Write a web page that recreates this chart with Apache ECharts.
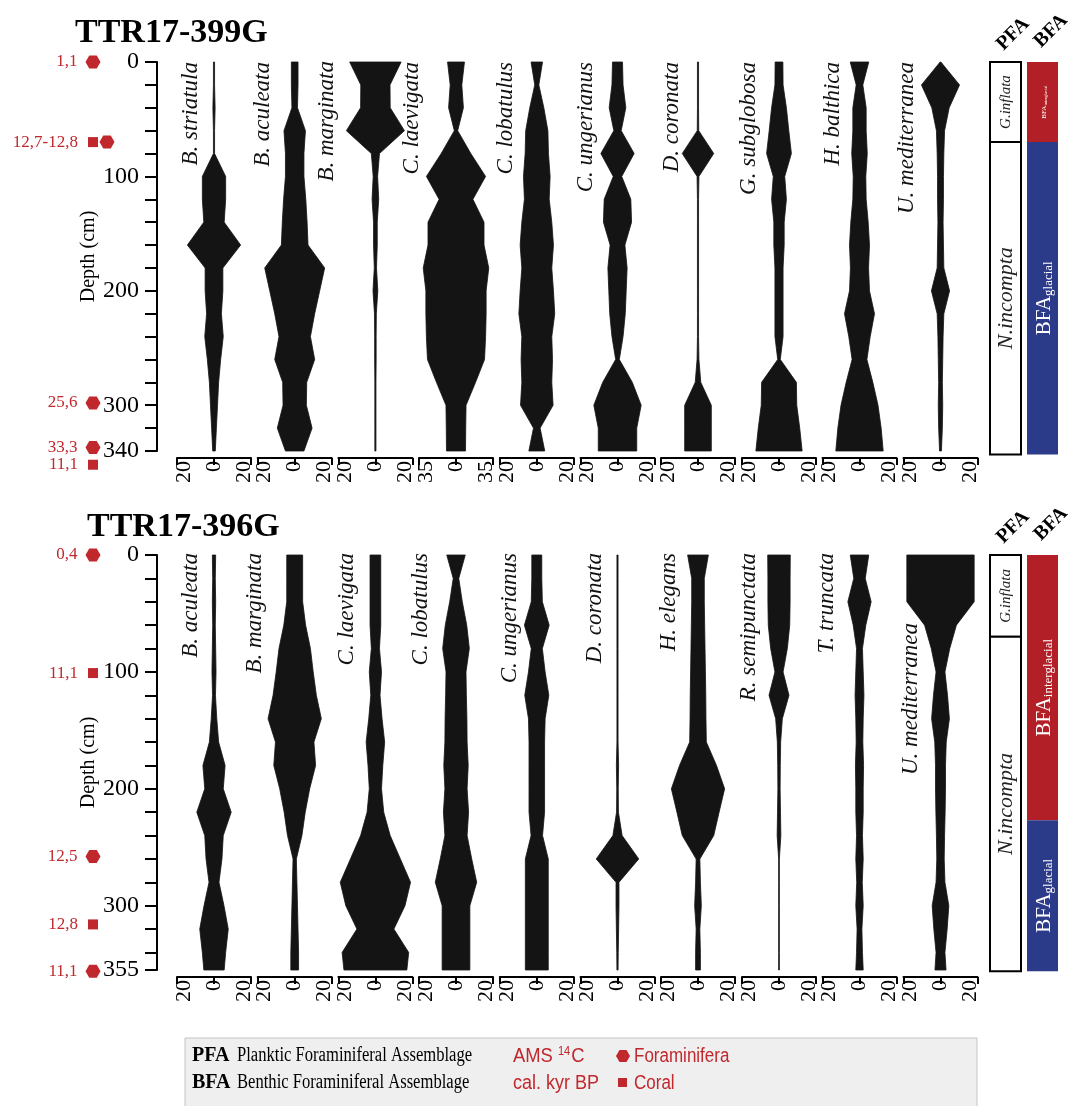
<!DOCTYPE html>
<html>
<head>
<meta charset="utf-8">
<script src="https://cdn.jsdelivr.net/npm/echarts@6/dist/echarts.min.js"></script>
<style>
html,body{margin:0;padding:0;background:#fff;}
#chart{width:1072px;height:1106px;}
</style>
</head>
<body>
<div id="chart"></div>
<script>
// ---------- data: TTR17-399G ----------
const depths399 = [0,20,40,60,80,100,120,140,160,180,200,220,240,260,280,300,320,340];
const taxa399 = ['B. striatula','B. aculeata','B. marginata','C. laevigata','C. lobatulus',
                 'C. ungerianus','D. coronata','G. subglobosa','H. balthica','U. mediterranea'];
const range399 = [20,20,20,35,20,20,20,20,20,20];

const bStriatula399  = [0.3,0.3,0.6,0.3,0.3,6.3,6.3,5.5,14.4,4.8,4.8,4,5,3.6,2.5,1.9,1.3,0.7];
const bAculeata399   = [1.8,1.8,1.5,5.8,5,5,6,6.7,7.2,16.2,13.5,10.8,8.5,10.8,6.5,6.3,9.4,5];
const bMarginata399  = [13.9,7.9,8,15.7,2.2,1.2,1.8,1,1,0.6,1.3,0.5,0.4,0.4,0.3,0.3,0.3,0.3];
const cLaevigata399  = [8,5.5,7,1.6,14,28,16,26.5,26.5,31,28.5,28.5,28,27,18.5,9.5,9.2,9];
const cLobatulus399  = [3.1,1.1,3.8,6,6.3,7.2,6.7,8.1,9,8.1,9,9.7,8.1,8.5,8.1,8.8,1.8,4.3];
const cUngerianus399 = [2.7,3,4.5,2,9,2.3,7.2,7.6,4,5.2,4.7,4.2,3,1,8,12.8,10.4,10.4];
const dCoronata399   = [0.3,0.3,0.3,0.4,8.5,0.5,0.3,0.3,0.3,0.3,0.3,0.3,0.3,0.5,1.5,7.2,7.2,7.2];
const gSubglobosa399 = [2.1,2.2,4,5.3,6.7,3.1,4,2.8,2.8,2.2,2.2,2.2,2.2,0.7,9.4,9.6,11.2,12.5];
const hBalthica399   = [5,1.8,3.6,3.6,4.2,3.4,3.6,4.7,5.4,4.9,5.4,8.1,5.8,4,7.2,10,11.7,12.8];
const uMediterr399   = [0.2,10.3,4.7,2.2,1.8,1.6,1.6,1.4,1.6,1.8,4.9,1.8,1.4,1.2,1,1.2,1,0.5];

const depthTicks399  = depths399;
const depthLabels399 = [0,100,200,300,340];

const dateDepth399 = [0,70,70,298,337,352];
const dateLabel399 = ['1,1','12,7-12,8','','25,6','33,3','11,1'];
const dateKind399  = ['F','C','F','F','F','C'];

const pfaFrom399 = [0,70],  pfaTo399 = [70,343],  pfaName399 = ['G.inflata','N.incompta'];
const bfaFrom399 = [0,70],  bfaTo399 = [70,343],  bfaName399 = ['interglacial','glacial'];

// ---------- data: TTR17-396G ----------
const depths396 = [0,20,40,60,80,100,120,140,160,180,200,220,240,260,280,300,320,340,355];
const taxa396 = ['B. aculeata','B. marginata','C. laevigata','C. lobatulus','C. ungerianus',
                 'D. coronata','H. elegans','R. semipunctata','T. truncata','U. mediterranea'];
const range396 = [20,20,20,20,20,20,20,20,20,20];

const bAculeata396   = [0.9,0.7,0.9,0.7,0.9,1.1,0.8,1.5,2.5,6,5,9.3,5,4.3,2.7,5.4,7.7,6.3,5.5];
const bMarginata396  = [4.3,4.3,4.3,5.9,8.5,10,11.7,14.4,10.4,11.3,8.1,5.7,3.9,0.9,1.2,1.5,1.8,2.1,2.1];
const cLaevigata396  = [2.9,2.9,2.9,2.9,2.2,3.3,2.5,3.6,5,4,3.3,4.5,8,13.5,19,16,10,18,17];
const cLobatulus396  = [5,1.5,3.4,5.8,7.2,5.4,5.6,5.9,6,6.6,6,6.8,6,8.5,11.2,7.5,7.5,7.5,7.5];
const cUngerianus396 = [2.7,2.7,3,6.7,3,4.5,6.5,4.5,4.2,4.2,4.2,4.2,3.1,6.2,6.2,6.2,6.2,6.2,6.2];
const dCoronata396   = [0.3,0.3,0.3,0.3,0.3,0.3,0.3,0.3,0.3,0.6,0.4,0.5,2.5,11.5,0.8,0.8,0.6,0.4,0.3];
const hElegans396    = [5.6,3.4,3.4,3.6,3.8,4,4.2,4.3,4.5,10,14.4,11.4,8.5,1,1.3,1.8,1,1.3,1.3];
const rSemipunct396  = [6.1,6,6,5.8,4.5,2.2,5.4,1.8,0.9,0.7,0.6,0.8,1,0.2,0.2,0.2,0.2,0.2,0.2];
const tTruncata396   = [5,3.1,6.3,3.4,1.6,2,2.4,2,1.8,2.2,2,2,1.6,2,1.5,2,1.3,1.6,2];
const uMediterr396   = [18.2,18.2,18.2,8.6,5,2.4,3.8,4.8,3.1,2.7,2.7,2.5,2.2,2,2.4,4.5,3.6,2.4,3];

const depthTicks396  = depths396;
const depthLabels396 = [0,100,200,300,355];

const dateDepth396 = [0,101,258,316,356];
const dateLabel396 = ['0,4','11,1','12,5','12,8','11,1'];
const dateKind396  = ['F','C','F','C','F'];

const pfaFrom396 = [0,70],  pfaTo396 = [70,356],  pfaName396 = ['G.inflata','N.incompta'];
const bfaFrom396 = [0,227], bfaTo396 = [227,356], bfaName396 = ['interglacial','glacial'];

// ---------- layout & style ----------
const SERIF = '"Liberation Serif","Times New Roman",serif';
const SANS  = '"Liberation Sans",Arial,sans-serif';
const INK = '#141414', RED = '#c0282d', BFA_RED = '#b31f27', BFA_BLUE = '#2c3a8a';
const HEX = 'path://M0,6 L3.5,0 L10.5,0 L14,6 L10.5,12 L3.5,12 Z';
const colX = [214,294.7,375.4,456,536.8,617.5,698,779,859.5,940.5];
const HALF = 37;

const panels = [
  {title:'TTR17-399G', titleLeft:70, titleTop:11, top:62, height:389, maxDepth:340, axisOffset:7,
   depths:depths399, taxa:taxa399, ranges:range399,
   values:[bStriatula399,bAculeata399,bMarginata399,cLaevigata399,cLobatulus399,
           cUngerianus399,dCoronata399,gSubglobosa399,hBalthica399,uMediterr399],
   ticks:depthTicks399, labels:depthLabels399,
   dateDepth:dateDepth399, dateLabel:dateLabel399, dateKind:dateKind399,
   pfa:[pfaFrom399,pfaTo399,pfaName399], bfa:[bfaFrom399,bfaTo399,bfaName399],
   labelDx:[-12,-20,-37,-33,-19,-20,-15,-19,-15,-22], labelDy:[0,0,-1,0,0,0,0,0,0,0]},
  {title:'TTR17-396G', titleLeft:82, titleTop:505, top:555, height:415, maxDepth:355, axisOffset:7,
   depths:depths396, taxa:taxa396, ranges:range396,
   values:[bAculeata396,bMarginata396,cLaevigata396,cLobatulus396,cUngerianus396,
           dCoronata396,hElegans396,rSemipunct396,tTruncata396,uMediterr396],
   ticks:depthTicks396, labels:depthLabels396,
   dateDepth:dateDepth396, dateLabel:dateLabel396, dateKind:dateKind396,
   pfa:[pfaFrom396,pfaTo396,pfaName396], bfa:[bfaFrom396,bfaTo396,bfaName396],
   labelDx:[-12,-28,-17,-24,-15,-11,-18,-19,-21,-18], labelDy:[-2,-2,-2,-2,-2,-2,-2,-2,-2,68]}
];

const option = {animation:false, backgroundColor:'#fff', title:[], grid:[], xAxis:[], yAxis:[], series:[],
                graphic:{elements:[]}};
const G = option.graphic.elements;

function addGrid(left, width, top, height, xa, ya) {
  option.grid.push({left:left, width:width, top:top, height:height});
  const gi = option.grid.length - 1;
  option.xAxis.push(Object.assign({gridIndex:gi}, xa));
  option.yAxis.push(Object.assign({gridIndex:gi}, ya));
  return gi;
}
const hiddenDepth = md => ({type:'value', inverse:true, min:0, max:md, show:false});
const hiddenX = (a, b) => ({type:'value', min:a, max:b, show:false});

function kite(gi, depths, vals) {
  return {
    type:'custom', xAxisIndex:gi, yAxisIndex:gi, silent:true, clip:false,
    data: depths.map((d, i) => [vals[i], d]),
    renderItem: function (params, api) {
      if (params.dataIndex !== 0) return;
      const right = depths.map((d, i) => api.coord([vals[i], d]));
      const left = depths.map((d, i) => api.coord([-vals[i], d])).reverse();
      return {type:'polygon', shape:{points:right.concat(left)},
              style:{fill:INK, stroke:INK, lineWidth:0.8}};
    }
  };
}

function zones(gi, z, isPfa) {
  const from = z[0], to = z[1], names = z[2];
  return {
    type:'custom', xAxisIndex:gi, yAxisIndex:gi, silent:true, clip:false,
    data: from.map((f, i) => [f, to[i]]),
    renderItem: function (params, api) {
      const i = params.dataIndex;
      const a = api.coord([0, from[i]]), b = api.coord([1, to[i]]);
      const w = b[0] - a[0], h = b[1] - a[1];
      const cx = a[0] + w / 2, cy = a[1] + h / 2;
      let rect, txt;
      if (isPfa) {
        rect = {type:'rect', shape:{x:a[0], y:a[1], width:w, height:h},
                style:{fill:'#fff', stroke:'#000', lineWidth:2}};
        const fs = h > 120 ? 22 : 15;
        txt = {type:'text', x:cx + 1, y:cy, rotation:Math.PI / 2,
               style:{text:names[i], fill:'#222', fontSize:fs, fontFamily:SERIF, fontStyle:'italic',
                      align:'center', verticalAlign:'middle'}};
      } else {
        rect = {type:'rect', shape:{x:a[0], y:a[1], width:w, height:h},
                style:{fill:names[i] === 'glacial' ? BFA_BLUE : BFA_RED}};
        const big = h > 120, f1 = big ? 21 : 7, f2 = big ? 13 : 4.5;
        txt = {type:'text', x:cx + 2, y:cy, rotation:Math.PI / 2,
               style:{text:'{a|BFA}{b|' + names[i] + '}', align:'center', verticalAlign:'middle',
                      rich:{a:{fontSize:f1, fontFamily:SERIF, fill:'#fff'},
                            b:{fontSize:f2, fontFamily:SERIF, fill:'#fff', padding:[big ? 9 : 3,0,0,0]}}}};
      }
      return {type:'group', children:[rect, txt]};
    }
  };
}

panels.forEach(p => {
  const md = p.maxDepth;
  option.title.push({text:p.title, left:p.titleLeft, top:p.titleTop,
    textStyle:{fontSize:34, fontWeight:'bold', fontFamily:SERIF, color:'#000'}});

  // depth axis
  addGrid(157, 1, p.top, p.height, hiddenX(0, 1), {
    type:'value', inverse:true, min:0, max:md, position:'left',
    name:'Depth (cm)', nameLocation:'middle', nameGap:58,
    nameTextStyle:{fontSize:20, fontFamily:SERIF, color:'#000'},
    axisLine:{show:true, onZero:false, lineStyle:{color:'#000', width:2}},
    axisTick:{show:true, length:12, customValues:p.ticks, lineStyle:{color:'#000', width:2}},
    axisLabel:{show:true, customValues:p.labels, margin:18, fontSize:24, fontFamily:SERIF, color:'#000'},
    splitLine:{show:false}
  });

  // kite columns
  p.values.forEach((vals, c) => {
    const r = p.ranges[c];
    const lab = {fontSize:22, fontFamily:SERIF, color:'#000'};
    const gi = addGrid(colX[c] - HALF, HALF * 2, p.top, p.height, {
      type:'value', min:-r, max:r, interval:r, position:'bottom', offset:p.axisOffset,
      axisLine:{show:true, onZero:false, lineStyle:{color:'#000', width:2}},
      axisTick:{show:true, length:7, lineStyle:{color:'#000', width:2}},
      splitLine:{show:false},
      axisLabel:{show:true, rotate:90, margin:3,
        formatter: v => v < 0 ? '{lo|' + (-v) + '}' : (v > 0 ? '{hi|' + v + '}' : '{mid|0}'),
        rich:{lo:Object.assign({padding:[14,0,0,0]}, lab), hi:Object.assign({padding:[0,0,14,0]}, lab),
              mid:Object.assign({}, lab)}}
    }, hiddenDepth(md));
    option.series.push(kite(gi, p.depths, vals));
    G.push({type:'text', x:colX[c] + p.labelDx[c], y:p.top + p.labelDy[c], rotation:Math.PI / 2,
            style:{text:p.taxa[c], fill:'#111', fontSize:23, fontFamily:SERIF, fontStyle:'italic',
                   align:'right', verticalAlign:'bottom'}});
  });

  // radiocarbon dates
  const mi = addGrid(86, 28, p.top, p.height, hiddenX(0, 2), hiddenDepth(md));
  option.series.push({
    type:'scatter', xAxisIndex:mi, yAxisIndex:mi, clip:false, silent:true,
    itemStyle:{color:RED, opacity:1},
    label:{position:'left', color:RED, fontSize:17, fontFamily:SERIF},
    data: p.dateDepth.map((d, i) => {
      const dup = i > 0 && p.dateDepth[i - 1] === d;
      const hex = p.dateKind[i] === 'F';
      return {value:[dup ? 1.5 : 0.5, d], symbol:hex ? HEX : 'rect', symbolSize:hex ? [15,13] : [10,10],
              label:{show:p.dateLabel[i] !== '', formatter:p.dateLabel[i], distance:hex ? 8 : 10}};
    })
  });

  // assemblage columns
  const pi = addGrid(990, 31, p.top, p.height, hiddenX(0, 1), hiddenDepth(md));
  option.series.push(zones(pi, p.pfa, true));
  const bi = addGrid(1027, 31, p.top, p.height, hiddenX(0, 1), hiddenDepth(md));
  option.series.push(zones(bi, p.bfa, false));
  G.push({type:'text', x:1013, y:p.top - 28, rotation:Math.PI / 4,
          style:{text:'PFA', fontSize:20, fontWeight:'bold', fontFamily:SERIF, fill:'#000',
                 align:'center', verticalAlign:'middle'}});
  G.push({type:'text', x:1051, y:p.top - 31, rotation:Math.PI / 4,
          style:{text:'BFA', fontSize:20, fontWeight:'bold', fontFamily:SERIF, fill:'#000',
                 align:'center', verticalAlign:'middle'}});
});

// ---------- key box ----------
G.push({type:'rect', shape:{x:185, y:1038, width:792, height:80},
        style:{fill:'#efefef', stroke:'#c4c4c4', lineWidth:1}});
[['PFA','Planktic Foraminiferal Assemblage',1056],['BFA','Benthic Foraminiferal Assemblage',1083]].forEach(r => {
  G.push({type:'text', x:192, y:r[2], style:{text:r[0], fontSize:20, fontWeight:'bold', fontFamily:SERIF,
          fill:'#000', align:'left', verticalAlign:'middle'}});
  G.push({type:'text', x:237, y:r[2], scaleX:0.83, style:{text:r[1], fontSize:20, fontFamily:SERIF,
          fill:'#000', align:'left', verticalAlign:'middle'}});
});
G.push({type:'text', x:513, y:1056, scaleX:0.92,
        style:{text:'{t|AMS }{s|14}{t|C}', align:'left', verticalAlign:'middle',
               rich:{t:{fontSize:20, fontFamily:SANS, fill:RED},
                     s:{fontSize:12, fontFamily:SANS, fill:RED, padding:[0,1,9,0]}}}});
G.push({type:'text', x:513, y:1083, scaleX:0.9,
        style:{text:'cal. kyr BP', fontSize:20, fontFamily:SANS, fill:RED, align:'left', verticalAlign:'middle'}});
G.push({type:'polygon', shape:{points:[[616,1056],[619.5,1050],[626.5,1050],[630,1056],[626.5,1062],[619.5,1062]]},
        style:{fill:RED}});
G.push({type:'rect', shape:{x:618, y:1078, width:9, height:9}, style:{fill:RED}});
G.push({type:'text', x:634, y:1056, scaleX:0.85,
        style:{text:'Foraminifera', fontSize:20, fontFamily:SANS, fill:RED, align:'left', verticalAlign:'middle'}});
G.push({type:'text', x:634, y:1083, scaleX:0.85,
        style:{text:'Coral', fontSize:20, fontFamily:SANS, fill:RED, align:'left', verticalAlign:'middle'}});

const chart = echarts.init(document.getElementById('chart'));
chart.setOption(option);
</script>
</body>
</html>
